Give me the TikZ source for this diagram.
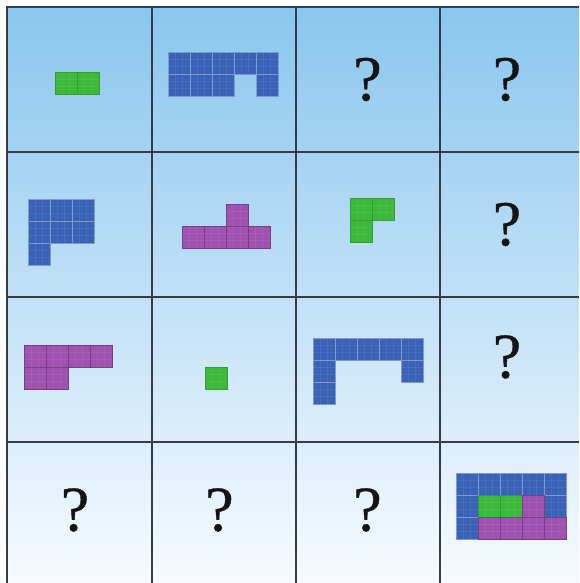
\documentclass[tikz,border=0pt]{standalone}
\usepackage{fontspec}
\setmainfont{Liberation Serif}
\newfontfamily\qfont[FakeBold=0.6]{Liberation Serif}
\definecolor{bgtop}{RGB}{138,198,238}
\definecolor{bgmid}{RGB}{186,222,245}
\definecolor{bgbot}{RGB}{247,251,255}
\definecolor{gridc}{RGB}{52,60,70}
\definecolor{sqblue}{RGB}{58,98,182}
\definecolor{sqgreen}{RGB}{62,184,58}
\definecolor{sqpurple}{RGB}{160,82,176}
\tikzset{
  gridline/.style={draw=gridc, line width=1.8pt},
  bluesq/.style={fill=sqblue, draw=sqblue!65!white, line width=0.8pt},
  greensq/.style={fill=sqgreen, draw=sqgreen!85!black, line width=0.6pt},
  purplesq/.style={fill=sqpurple, draw=sqpurple!75!black, line width=0.6pt},
  qmark/.style={inner sep=0pt, font=\qfont\fontsize{64}{64}\selectfont, text=black!92},
  subl/.style={draw=white, opacity=0.07, line width=0.4pt}
}
\newcommand\unitblock[4]{%
  \foreach \i/\j in {#4} {
    \draw[#1] ({#2+22*\i},{#3+22*\j}) rectangle ++(22,22);
    \draw[subl] ({#2+22*\i+7.33},{#3+22*\j}) -- ++(0,22);
    \draw[subl] ({#2+22*\i+14.67},{#3+22*\j}) -- ++(0,22);
    \draw[subl] ({#2+22*\i},{#3+22*\j+7.33}) -- ++(22,0);
    \draw[subl] ({#2+22*\i},{#3+22*\j+14.67}) -- ++(22,0);
  }%
}
\begin{document}
\begin{tikzpicture}[x=1pt,y=-1pt]
\useasboundingbox (0,0) rectangle (579,583);
\fill[white] (0,0) rectangle (579,583);
\shade[top color=bgtop, middle color=bgmid, bottom color=bgbot] (7,7) rectangle (579,583);

% shapes
\unitblock{greensq}{55}{72}{0/0,1/0}
\unitblock{bluesq}{168}{52}{0/0,1/0,2/0,3/0,4/0,0/1,1/1,2/1,4/1}
\unitblock{bluesq}{28}{199}{0/0,1/0,2/0,0/1,1/1,2/1,0/2}
\unitblock{purplesq}{182}{204}{2/0,0/1,1/1,2/1,3/1}
\unitblock{greensq}{350}{198}{0/0,1/0,0/1}
\unitblock{purplesq}{24}{345}{0/0,1/0,2/0,3/0,0/1,1/1}
\unitblock{greensq}{205}{367}{0/0}
\unitblock{bluesq}{313}{338}{0/0,1/0,2/0,3/0,4/0,0/1,4/1,0/2}
\unitblock{bluesq}{456}{473}{0/0,1/0,2/0,3/0,4/0,0/1,4/1,0/2}
\unitblock{greensq}{456}{473}{1/1,2/1}
\unitblock{purplesq}{456}{473}{3/1,1/2,2/2,3/2,4/2}

% question marks
\node[qmark] (q02) at (367.5,79.5) {?};
\node[qmark] (q03) at (507,79.5) {?};
\node[qmark] (q13) at (507,224.5) {?};
\node[qmark] (q23) at (507,357) {?};
\node[qmark] (q30) at (75,510) {?};
\node[qmark] (q31) at (219.5,510) {?};
\node[qmark] (q32) at (367.5,510) {?};

% grid
\foreach \y in {7,152,297,442} \draw[gridline] (6.1,\y) -- (579,\y);
\foreach \x in {7,152,296,440} \draw[gridline] (\x,6.1) -- (\x,583);
\end{tikzpicture}
\end{document}
